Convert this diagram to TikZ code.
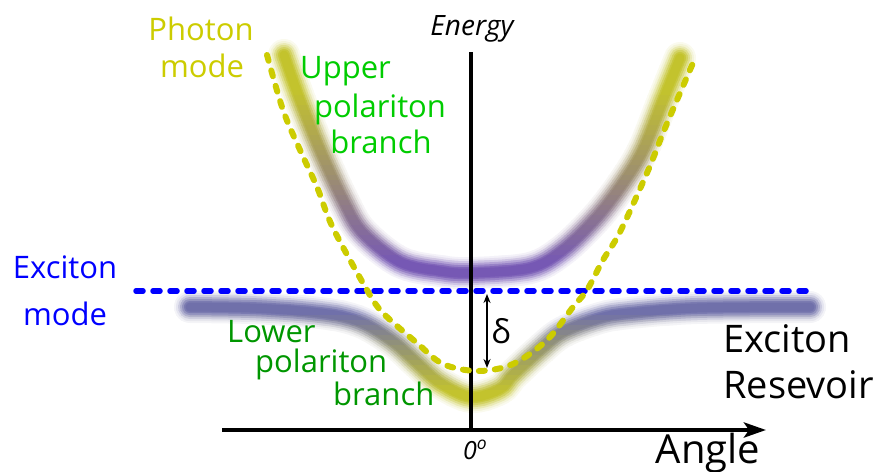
\documentclass[tikz,border=0pt]{standalone}
\usepackage{fontspec}
\setmainfont{Open Sans}
\usetikzlibrary{arrows.meta}
\definecolor{photonY}{RGB}{204,204,0}
\definecolor{upG}{RGB}{0,204,0}
\definecolor{lowG}{RGB}{0,150,0}
\definecolor{excB}{RGB}{0,0,255}
\definecolor{bandY}{RGB}{195,195,45}
\definecolor{bandPU}{RGB}{118,88,180}
\definecolor{bandPL}{RGB}{112,112,170}
\tikzset{
  lbl/.style={inner sep=0pt, anchor=base, font=\fontsize{31}{37}\selectfont},
  axisline/.style={line width=4.5pt, black},
  excdash/.style={line width=5.5pt, excB, dash pattern=on 7pt off 10pt, line cap=round},
  phodash/.style={line width=6pt, photonY, dash pattern=on 6pt off 10pt, line cap=round},
}
\def\upperpath{plot[smooth,tension=0.55] coordinates {(284,55) (300,100) (320,150) (343,200) (362,232) (400,262) (440,271) (471,273) (530,268) (563,250) (597,217) (623,183) (643,150) (663,100) (680,58)}}
\def\lowerpath{plot[smooth,tension=0.55] coordinates {(190,307) (250,308) (300,311) (340,316) (367,325) (395,343) (417,363) (440,383) (471,397) (500,389) (513,375) (540,350) (563,332) (600,318) (630,313) (697,308) (810,307)}}
\begin{document}
\begin{tikzpicture}[x=1pt,y=-1pt]
\useasboundingbox (0,0) rectangle (883,471);
% blurred polariton bands
\foreach \w/\p in {32/8,28/18,24/35,20/55,16/75,12/92,9/100}{
  \foreach \ys in {30,35,...,290}{
    \pgfmathtruncatemacro\f{min(100,max(0,(\ys+2.5-90)/(262-90)*100))}
    \colorlet{bc}{bandPU!\f!bandY}
    \begin{scope}
      \clip (150,\ys) rectangle (850,{\ys+5.6});
      \draw[line width=\w pt, color=bc!\p!white, line cap=round] \upperpath;
    \end{scope}
  }
  \foreach \ys in {285,290,...,420}{
    \pgfmathtruncatemacro\f{min(100,max(0,(\ys+2.5-312)/(392-312)*100))}
    \colorlet{bc}{bandY!\f!bandPL}
    \begin{scope}
      \clip (150,\ys) rectangle (850,{\ys+5.6});
      \draw[line width=\w pt, color=bc!\p!white, line cap=round] \lowerpath;
    \end{scope}
  }
}
% axes
\coordinate (ytop) at (471,52);
\coordinate (origin) at (471,430);
\coordinate (xstart) at (222,430);
\coordinate (xend) at (766,430);
\draw[axisline] (ytop) -- (origin);
\draw[axisline, -{Stealth[length=22pt,width=15pt,inset=5pt]}] (xstart) -- (xend);
% exciton mode line
\coordinate (exl) at (136,291);
\coordinate (exr) at (806,291);
\draw[excdash] (exl) -- (exr);
% photon mode parabola
\draw[phodash] plot[smooth,tension=0.55] coordinates {(267,55) (283,110) (300,150) (317,187) (333,228) (367,290) (383,313) (417,343) (443,364) (478,371) (513,364) (547,340) (573,307) (587,290) (603,260) (620,232) (647,173) (663,133) (677,100) (693,63)};
% detuning arrow
\coordinate (dtop) at (487,294);
\coordinate (dbot) at (487,368);
\draw[line width=1.6pt, {Stealth[length=9pt,width=7pt]}-{Stealth[length=9pt,width=7pt]}] (dtop) -- (dbot);
\node[inner sep=0pt, anchor=center, font=\fontsize{33}{38}\selectfont] (delta) at (501,331) {δ};
% labels
\node[lbl, photonY] (ph1) at (201,40) {Photon};
\node[lbl, photonY] (ph2) at (202,77) {mode};
\node[lbl, upG, anchor=base west] (up1) at (300,78) {Upper};
\node[lbl, upG] (up2) at (380,117) {polariton};
\node[lbl, upG] (up3) at (381,153) {branch};
\node[lbl, excB] (ex1) at (65,278) {Exciton};
\node[lbl, excB] (ex2) at (65,325) {mode};
\node[lbl, lowG, anchor=base west] (lo1) at (227,342) {Lower};
\node[lbl, lowG, anchor=base west] (lo2) at (255,372) {polariton};
\node[lbl, lowG, anchor=base west] (lo3) at (333,405) {branch};
\node[inner sep=0pt, anchor=base west, font=\fontsize{38}{44}\selectfont] (er1) at (723,352) {Exciton};
\node[inner sep=0pt, anchor=base west, font=\fontsize{38}{44}\selectfont] (er2) at (723,398) {Resevoir};
\node[inner sep=0pt, anchor=base, font=\fontsize{28}{32}\selectfont\itshape] (energy) at (472,35) {Energy};
\node[inner sep=0pt, anchor=base west, font=\fontsize{25}{28}\selectfont\itshape] (zero) at (463,459) {0\textsuperscript{o}};
\node[inner sep=0pt, anchor=base, font=\fontsize{40}{46}\selectfont] (angle) at (708,463) {Angle};
\end{tikzpicture}
\end{document}
